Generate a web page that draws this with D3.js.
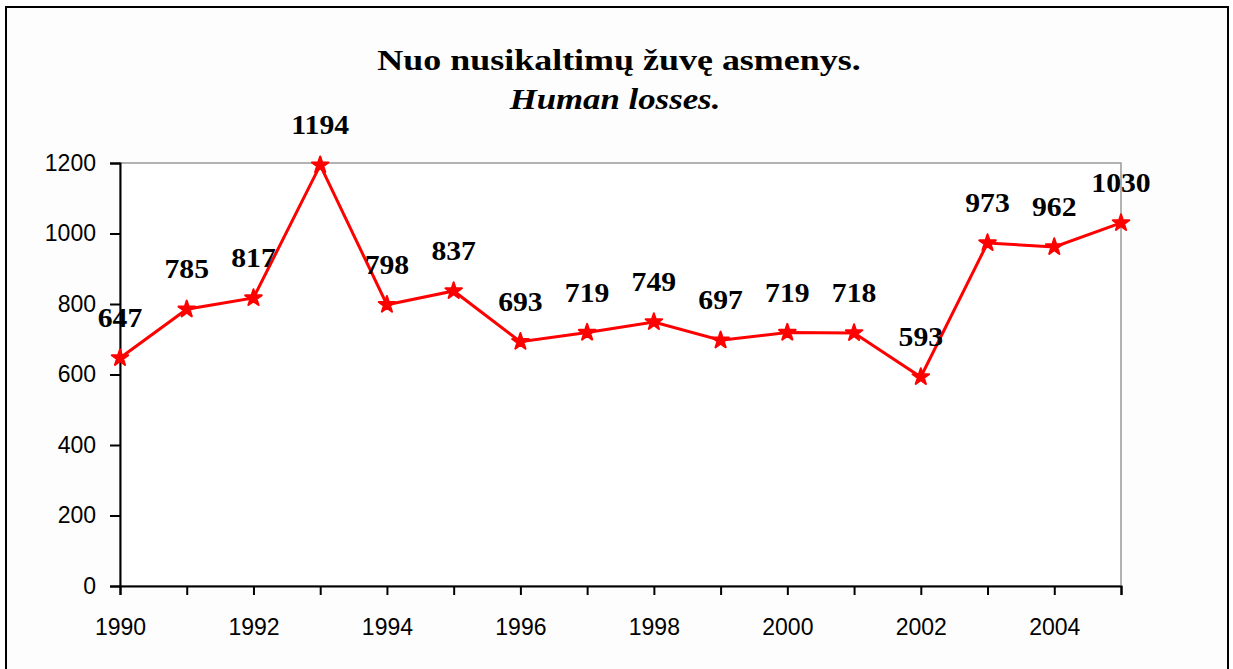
<!DOCTYPE html>
<html><head><meta charset="utf-8">
<script src="https://cdn.jsdelivr.net/npm/d3@7"></script>
<style>body{margin:0;background:#fff}svg{display:block}</style>
</head><body>
<script>
const years = [1990,1991,1992,1993,1994,1995,1996,1997,1998,1999,2000,2001,2002,2003,2004,2005];
const values = [647,785,817,1194,798,837,693,719,749,697,719,718,593,973,962,1030];
const yTicks = [0,200,400,600,800,1000,1200];
const xTickLabels = [1990,1992,1994,1996,1998,2000,2002,2004];
const titleLines = ["Nuo nusikaltimų žuvę asmenys.", "Human losses."];

const W = 1233, H = 669;
const svg = d3.select("body").append("svg").attr("width", W).attr("height", H);
svg.append("rect").attr("x",0).attr("y",0).attr("width",W).attr("height",H).attr("fill","#fff");
svg.append("rect").attr("x",6).attr("y",7).attr("width",1222).attr("height",H+20)
  .attr("fill","#fdfdfd").attr("stroke","#000").attr("stroke-width",2);

const x = d3.scaleLinear().domain([1990,2005]).range([120,1121]);
const y = d3.scaleLinear().domain([0,1200]).range([586,163]);

// plot area frame (top/right gray)
svg.append("rect").attr("x",x(1990)).attr("y",y(1200)).attr("width",x(2005)-x(1990)).attr("height",y(0)-y(1200))
  .attr("fill","#fff").attr("stroke","#999").attr("stroke-width",1.5);

const axisFont = "Liberation Sans, Arial, sans-serif";
// y axis
const yAxis = d3.axisLeft(y).tickValues(yTicks).tickSize(10).tickPadding(14).tickFormat(d3.format("d"));
const gy = svg.append("g").attr("transform",`translate(${x(1990)},0)`).call(yAxis);
gy.select(".domain").attr("stroke","#000").attr("stroke-width",2);
gy.selectAll(".tick line").attr("stroke","#000").attr("stroke-width",2);
gy.selectAll("text").attr("font-family",axisFont).attr("font-size",23).attr("fill","#000");

// x axis
const xAxis = d3.axisBottom(x).tickValues(years).tickSize(9).tickPadding(24)
  .tickFormat(d => xTickLabels.includes(d) ? String(d) : "");
const gx = svg.append("g").attr("transform",`translate(0,${y(0)})`).call(xAxis);
gx.select(".domain").attr("stroke","#000").attr("stroke-width",2);
gx.selectAll(".tick line").attr("stroke","#000").attr("stroke-width",2);
gx.selectAll("text").attr("font-family",axisFont).attr("font-size",23).attr("fill","#000");

// line
const data = years.map((yr,i)=>({yr, v: values[i]}));
svg.append("path").datum(data)
  .attr("d", d3.line().x(d=>x(d.yr)).y(d=>y(d.v)))
  .attr("fill","none").attr("stroke","#ff0000").attr("stroke-width",3);

svg.selectAll(".mk").data(data).enter().append("path")
  .attr("transform", d=>`translate(${x(d.yr)},${y(d.v)})`)
  .attr("d", d3.symbol().type(d3.symbolStar).size(85))
  .attr("fill","#ff0000").attr("stroke","#ff0000").attr("stroke-width",2).attr("stroke-linejoin","round");

// data labels
svg.selectAll(".lbl").data(data).enter().append("text")
  .attr("transform", d=>`translate(${x(d.yr)},${y(d.v)-31}) scale(1.1,1)`)
  .attr("text-anchor","middle")
  .attr("font-family","Liberation Serif, Times New Roman, serif").attr("font-weight","bold")
  .attr("font-size",27).attr("fill","#000")
  .text(d=>d.v);

// titles
svg.append("text").attr("transform","translate(619,70) scale(1.24,1)").attr("text-anchor","middle")
  .attr("font-family","Liberation Serif, Times New Roman, serif").attr("font-weight","bold")
  .attr("font-size",29).attr("fill","#000").text(titleLines[0]);
svg.append("text").attr("transform","translate(615,109) scale(1.2,1)").attr("text-anchor","middle")
  .attr("font-family","Liberation Serif, Times New Roman, serif").attr("font-weight","bold").attr("font-style","italic")
  .attr("font-size",29).attr("fill","#000").text(titleLines[1]);
</script>
</body></html>
